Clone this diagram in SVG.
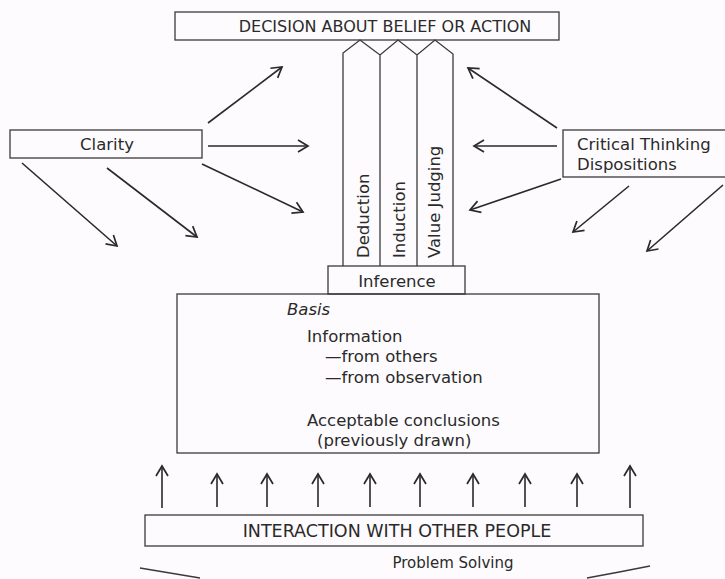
<svg xmlns="http://www.w3.org/2000/svg" width="725" height="579" viewBox="0 0 725 579">
<defs>
<style>
.bx{fill:none;stroke:#3a3a3a;stroke-width:1.3}
.t{font-family:"DejaVu Sans","Open Sans",sans-serif;fill:#2a2a2a;font-size:16.5px}
.ar{stroke:#2a2a2a;stroke-width:1.6;fill:none;marker-end:url(#ah)}
</style>
<marker id="ah" markerUnits="userSpaceOnUse" markerWidth="16" markerHeight="16" refX="12" refY="7" orient="auto" viewBox="0 0 16 14">
<path d="M2,1 L12,7 L2,13" fill="none" stroke="#2a2a2a" stroke-width="1.7"/>
</marker>
</defs>
<rect width="725" height="579" fill="#fdfbfd"/>
<g id="decision">
<rect class="bx" x="175" y="12" width="384" height="28"/>
<text class="t" x="385" y="32" text-anchor="middle" style="font-size:16px">DECISION ABOUT BELIEF OR ACTION</text>
</g>
<g id="columns">
<path class="bx" d="M343,266 L343,53 L360,40 L380,55 L398,40 L417,55 L435,40 L453,54 L453,266 M380,55 L380,266 M417,55 L417,266"/>
<text class="t" transform="translate(369,258) rotate(-90)">Deduction</text>
<text class="t" transform="translate(405,258) rotate(-90)">Induction</text>
<text class="t" transform="translate(440,258) rotate(-90)">Value Judging</text>
</g>
<g id="inference">
<rect class="bx" x="328" y="266" width="137" height="28"/>
<text class="t" x="397" y="287" text-anchor="middle">Inference</text>
</g>
<g id="basis">
<rect class="bx" x="177" y="294" width="422" height="159"/>
<text class="t" x="287" y="315" font-style="italic">Basis</text>
<text class="t" x="307" y="342">Information</text>
<text class="t" x="325" y="362">—from others</text>
<text class="t" x="325" y="383">—from observation</text>
<text class="t" x="307" y="426">Acceptable conclusions</text>
<text class="t" x="317" y="446">(previously drawn)</text>
</g>
<g id="clarity">
<rect class="bx" x="10" y="130" width="192" height="28"/>
<text class="t" x="107" y="150" text-anchor="middle">Clarity</text>
</g>
<g id="dispositions">
<rect class="bx" x="563" y="130" width="170" height="47"/>
<text class="t" x="577" y="150">Critical Thinking</text>
<text class="t" x="577" y="170">Dispositions</text>
</g>
<g id="interaction">
<rect class="bx" x="145" y="515" width="498" height="31"/>
<text class="t" x="397" y="537" text-anchor="middle" style="font-size:17.5px">INTERACTION WITH OTHER PEOPLE</text>
</g>
<g id="problem">
<text class="t" x="453" y="568" text-anchor="middle" style="font-size:15px">Problem Solving</text>
<path class="bx" d="M140,568 Q170,573 200,578 M587,578 Q620,572 650,566"/>
</g>
<g id="connectors">
<line class="ar" x1="208" y1="123" x2="282" y2="67"/>
<line class="ar" x1="208" y1="146" x2="308" y2="146"/>
<line class="ar" x1="202" y1="164" x2="303" y2="212"/>
<line class="ar" x1="22" y1="163" x2="117" y2="246"/>
<line class="ar" x1="107" y1="168" x2="197" y2="237"/>
<line class="ar" x1="557" y1="128" x2="468" y2="68"/>
<line class="ar" x1="557" y1="146" x2="474" y2="146"/>
<line class="ar" x1="561" y1="179" x2="470" y2="210"/>
<line class="ar" x1="629" y1="186" x2="573" y2="232"/>
<line class="ar" x1="723" y1="185" x2="647" y2="251"/>
<line class="ar" x1="162" y1="508" x2="162" y2="466"/>
<line class="ar" x1="217" y1="507" x2="217" y2="474"/>
<line class="ar" x1="267" y1="507" x2="267" y2="474"/>
<line class="ar" x1="318" y1="507" x2="318" y2="474"/>
<line class="ar" x1="370" y1="507" x2="370" y2="474"/>
<line class="ar" x1="420" y1="507" x2="420" y2="474"/>
<line class="ar" x1="473" y1="507" x2="473" y2="474"/>
<line class="ar" x1="525" y1="507" x2="525" y2="474"/>
<line class="ar" x1="577" y1="507" x2="577" y2="474"/>
<line class="ar" x1="630" y1="508" x2="630" y2="466"/>
</g>
</svg>
